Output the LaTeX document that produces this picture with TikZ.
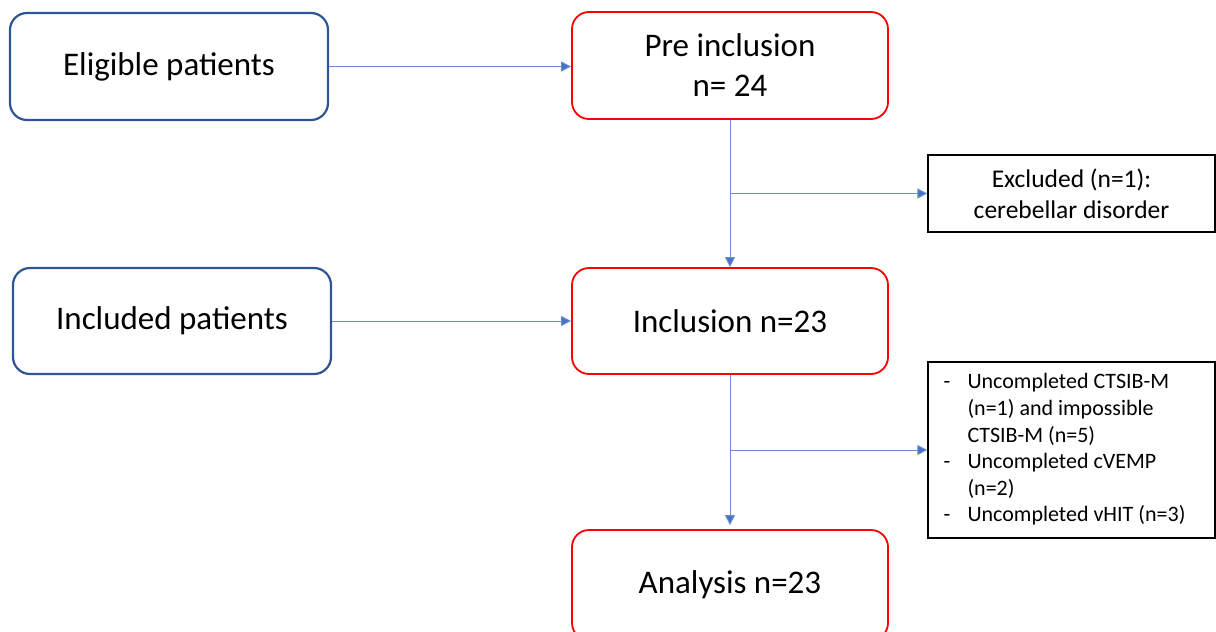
\documentclass[tikz,border=0pt]{standalone}
\usepackage{fontspec}
\setmainfont{Carlito}
\usetikzlibrary{arrows.meta}
\definecolor{boxblue}{HTML}{2F5597}
\definecolor{arrowblue}{HTML}{4472C4}
\definecolor{boxred}{HTML}{FF0000}
\tikzset{
  leftbox/.style={draw=boxblue, line width=2.2pt, rounded corners=17pt, fill=white, inner sep=0pt, align=center, font=\fontsize{33}{40}\selectfont},
  mainbox/.style={draw=boxred, line width=1.8pt, rounded corners=17pt, fill=white, inner sep=0pt, align=center, font=\fontsize{33}{40}\selectfont},
  notebox/.style={draw=black, line width=1.3pt, fill=white, inner sep=0pt},
  flow/.style={draw=arrowblue!80, line width=1pt, -{Triangle[length=10pt,width=10pt,fill=arrowblue]}}
}
\begin{document}
\begin{tikzpicture}[x=1pt,y=1pt]
\useasboundingbox (0,0) rectangle (1216,-632);
\node[leftbox, minimum width=318pt, minimum height=107pt] (elig) at (169,-66.5) {Eligible patients};
\node[mainbox, minimum width=316pt, minimum height=107pt] (pre) at (730,-65.5) {Pre inclusion\\n= 24};
\node[notebox, minimum width=287pt, minimum height=77pt, align=center, font=\fontsize{25.5}{31}\selectfont] (excl) at (1071.5,-193.5) {Excluded (n=1):\\cerebellar disorder};
\node[leftbox, minimum width=318pt, minimum height=106pt] (incd) at (172,-321) {Included patients};
\node[mainbox, minimum width=316pt, minimum height=106pt] (incl) at (730,-321) {Inclusion n=23};
\node[notebox, minimum width=287pt, minimum height=176pt] (miss) at (1071.5,-450) {};
\node[anchor=west, inner sep=0pt, align=left, font=\fontsize{22}{26.6}\selectfont] (misstext) at ([xshift=16pt]miss.west) {%
\begin{tabular}{@{}p{24pt}@{}l@{}}
- & Uncompleted CTSIB-M\\
  & (n=1) and impossible\\
  & CTSIB-M (n=5)\\
- & Uncompleted cVEMP\\
  & (n=2)\\
- & Uncompleted vHIT (n=3)
\end{tabular}};
\node[mainbox, minimum width=316pt, minimum height=110pt] (anal) at (730,-585) {Analysis n=23};
\coordinate (j1) at (pre.south |- excl.west);
\coordinate (j2) at (incl.south |- miss.west);
\draw[flow] (elig.east) -- (elig.east -| pre.west);
\draw[flow] (incd.east) -- (incd.east -| incl.west);
\draw[flow] (pre.south) -- (incl.north);
\draw[flow] (j1) -- (excl.west);
\draw[flow, shorten >=4pt] (incl.south) -- (anal.north);
\draw[flow] (j2) -- (miss.west);
\end{tikzpicture}
\end{document}
